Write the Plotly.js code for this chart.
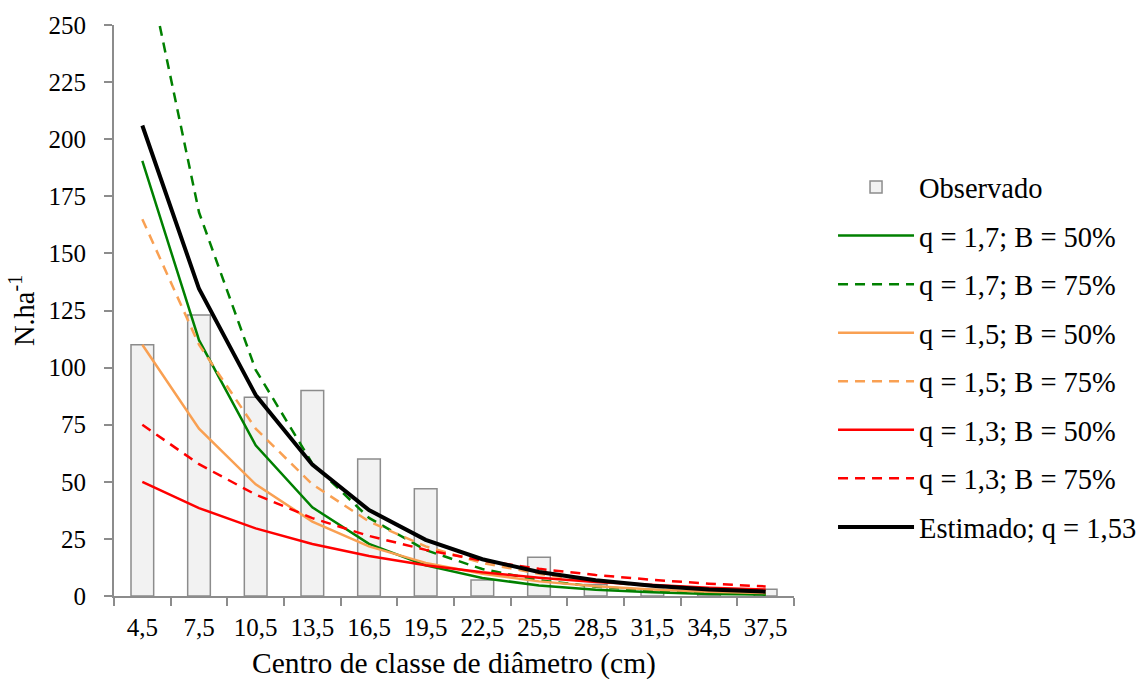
<!DOCTYPE html>
<html>
<head>
<meta charset="utf-8">
<script src="https://cdn.plot.ly/plotly-3.0.1.min.js"></script>
<style>
  html, body { margin: 0; padding: 0; background: #ffffff; }
  #chart { width: 1136px; height: 685px; }
</style>
</head>
<body>
<div id="chart"></div>
<script>
// Diameter class centres (cm)
const classes = ["4,5", "7,5", "10,5", "13,5", "16,5", "19,5", "22,5", "25,5", "28,5", "31,5", "34,5", "37,5"];

// Observed density (N.ha-1)
const observado = [110, 123, 87, 90, 60, 47, 7, 17, 5, 3, 2, 3];

// Balanced distributions
const q17_b50 = [190.5, 112, 66, 38.8, 22.8, 13.4, 7.9, 4.6, 2.7, 1.6, 0.9, 0.6];
const q17_b75 = [286, 168, 99, 58, 34.2, 20.1, 11.8, 6.9, 4.1, 2.4, 1.4, 0.8];
const q15_b50 = [110, 73.3, 48.9, 32.6, 21.7, 14.5, 9.7, 6.4, 4.3, 2.9, 1.9, 1.3];
const q15_b75 = [165, 110, 73.3, 48.9, 32.6, 21.7, 14.5, 9.7, 6.4, 4.3, 2.9, 1.9];
const q13_b50 = [50, 38.5, 29.6, 22.8, 17.5, 13.5, 10.4, 8.0, 6.1, 4.7, 3.6, 2.8];
const q13_b75 = [75, 57.7, 44.4, 34.1, 26.3, 20.2, 15.5, 11.9, 9.2, 7.1, 5.4, 4.2];
const estimado = [206, 134.5, 88, 57.5, 37.6, 24.6, 16.1, 10.5, 6.9, 4.5, 2.9, 1.9];

const seriesNames = [
  "Observado",
  "q = 1,7; B = 50%",
  "q = 1,7; B = 75%",
  "q = 1,5; B = 50%",
  "q = 1,5; B = 75%",
  "q = 1,3; B = 50%",
  "q = 1,3; B = 75%",
  "Estimado; q = 1,53"
];
const yTicks = [0, 25, 50, 75, 100, 125, 150, 175, 200, 225, 250];

const FONT = "Times New Roman, Liberation Serif, DejaVu Serif, serif";
const GREEN = "#008000", ORANGE = "#F9A052", RED = "#FF0000", BLACK = "#000000";
const DASH = "10px,7px";

function lineTrace(name, y, color, width, dash, i) {
  return {
    type: "scatter", mode: "lines", x: classes, y: y, name: name,
    line: { color: color, width: width, dash: dash },
    legendgroup: "g" + i, cliponaxis: true, hoverinfo: "x+y+name"
  };
}

const traces = [
  {
    type: "bar", x: classes, y: observado, name: seriesNames[0],
    marker: { color: "#F2F2F2", line: { color: "#8C8C8C", width: 1.5 } },
    legendgroup: "g0"
  },
  lineTrace(seriesNames[1], q17_b50, GREEN, 2.5, "solid", 1),
  lineTrace(seriesNames[2], q17_b75, GREEN, 2.5, DASH, 2),
  lineTrace(seriesNames[3], q15_b50, ORANGE, 2.5, "solid", 3),
  lineTrace(seriesNames[4], q15_b75, ORANGE, 2.5, DASH, 4),
  lineTrace(seriesNames[5], q13_b50, RED, 2.5, "solid", 5),
  lineTrace(seriesNames[6], q13_b75, RED, 2.5, DASH, 6),
  lineTrace(seriesNames[7], estimado, BLACK, 4, "solid", 7)
];

const layout = {
  width: 1136, height: 685,
  margin: { l: 114, r: 342, t: 25, b: 89, pad: 0 },
  paper_bgcolor: "#ffffff", plot_bgcolor: "#ffffff",
  font: { family: FONT, size: 25, color: "#000000" },
  bargap: 0.6,
  showlegend: true,
  legend: {
    xref: "container", yref: "container",
    x: 0.7333, xanchor: "left", y: 0.7635, yanchor: "top",
    font: { family: FONT, size: 28.5, color: "#000000" },
    traceorder: "grouped", tracegroupgap: 8.5,
    itemwidth: 76, bgcolor: "rgba(0,0,0,0)",
    maxheight: 600
  },
  xaxis: {
    type: "category", range: [-0.5, 11.5],
    showline: true, linecolor: "#8C8C8C", linewidth: 2,
    ticks: "outside", tickson: "boundaries", ticklen: 8, tickwidth: 2, tickcolor: "#8C8C8C",
    showgrid: false, zeroline: false, ticklabelstandoff: 8,
    tickfont: { family: FONT, size: 25, color: "#000000" },
    title: { text: "Centro de classe de diâmetro (cm)", font: { family: FONT, size: 29.5, color: "#000000" }, standoff: 12 }
  },
  yaxis: {
    range: [0, 250], tickvals: yTicks, ticktext: yTicks.map(String),
    showline: true, linecolor: "#8C8C8C", linewidth: 2,
    ticks: "outside", ticklen: 8, tickwidth: 2, tickcolor: "#8C8C8C",
    showgrid: false, zeroline: false, ticklabelstandoff: 13,
    tickfont: { family: FONT, size: 25, color: "#000000" },
    title: { text: "N.ha<sup>-1</sup>", font: { family: FONT, size: 28.5, color: "#000000" }, standoff: 6 }
  }
};

Plotly.newPlot("chart", traces, layout, { displayModeBar: false, staticPlot: true });
</script>
</body>
</html>
